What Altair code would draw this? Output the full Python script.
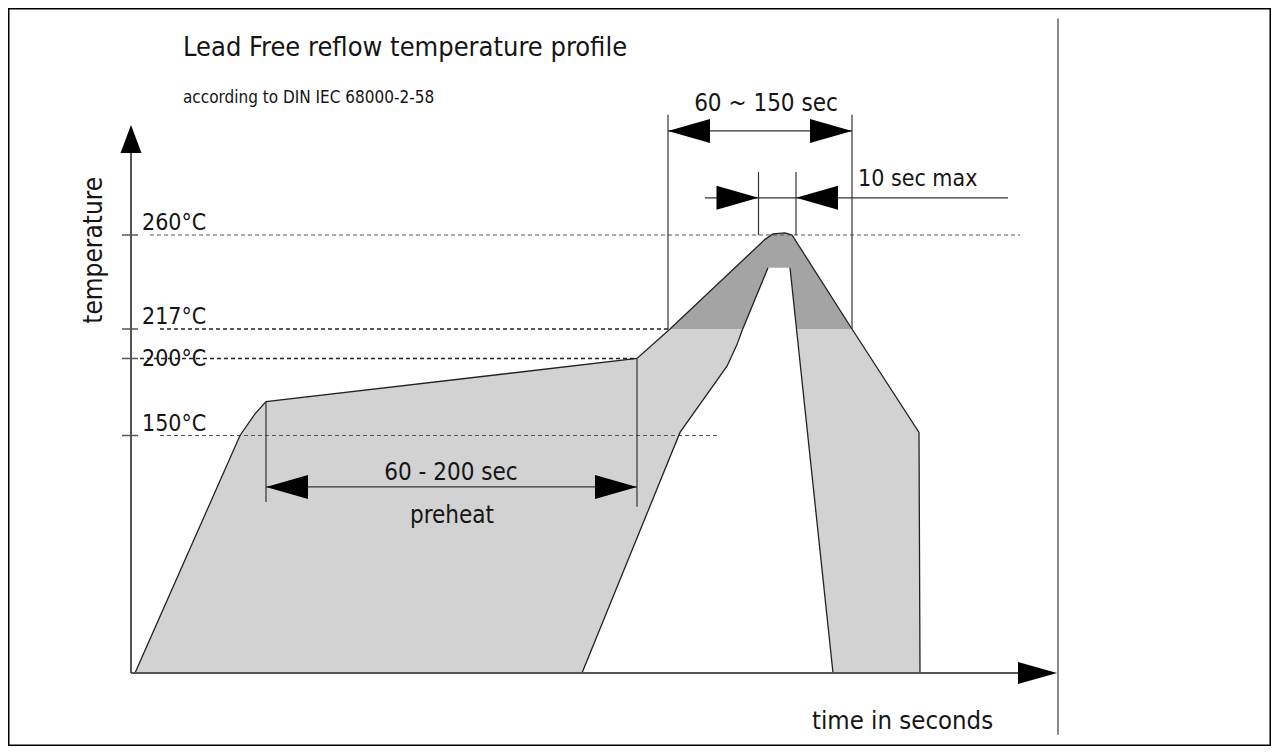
import altair as alt
import pandas as pd

FONT = "DejaVu Sans Condensed, Liberation Sans Narrow, sans-serif"
INK = "#151515"
LIGHT = "#d2d2d2"
DARK = "#a4a4a4"

# ---------------- data (schematic time units, temperature in °C) ----------------
# upper (hot) limit of the profile
outer_time = [2, 54.5, 62, 67.5, 253, 269.5, 317, 321, 327, 330.5, 360.5, 394, 394.5]
outer_temp = [0, 150, 164, 172, 200, 217, 258, 260.5, 261, 260, 217, 152, 0]
# lower (cold) limit of the profile
inner_left_time = [225.5, 274.5, 298, 303, 305.5, 318.5]
inner_left_temp = [0, 152, 195, 208, 216, 245]
inner_right_time = [329.5, 351]
inner_right_temp = [245, 0]

# temperature levels
levels = [260, 217, 200, 150]
level_text = ["260°C", "217°C", "200°C", "150°C"]
level_from = [9.5, 14.5, 4.5, 14.5]
level_to = [444.5, 269.5, 253, 294.5]

# dimension / extension lines (t1, T1) -> (t2, T2)
dim_t1 = [67.5, 253, 67.5, 268.5, 360.5, 268.5, 313.75, 332.5, 287]
dim_T1 = [172, 200, 117.5, 315, 315, 307.6, 288.8, 288.8, 277]
dim_t2 = [67.5, 253, 253, 268.5, 360.5, 360.5, 313.75, 332.5, 438.5]
dim_T2 = [108, 105, 117.5, 217, 217, 307.6, 260, 260, 277]

# arrow tips
right_tip_t = [253, 360.5, 313.75]
right_tip_T = [117.5, 307.6, 277]
left_tip_t = [67.5, 268.5, 332.5]
left_tip_T = [117.5, 307.6, 277]

# axes
axis_t1 = [0, 0]
axis_T1 = [0, 0]
axis_t2 = [0, 450]
axis_T2 = [300, 0]
xaxis_tip_t = [463]
xaxis_tip_T = [0]
yaxis_tip_t = [0]
yaxis_tip_T = [310.3]

# texts
ann_text = ["60 - 200 sec", "preheat", "60 ~ 150 sec"]
ann_t = [160, 160.5, 317.5]
ann_T = [121.9, 94.7, 316.7]

# ---------------- scales ----------------
xs = alt.Scale(domain=[0, 463], range=[123, 1049], nice=False, zero=False)
ys = alt.Scale(domain=[0, 150, 200, 217, 260], range=[665, 427.5, 350.5, 321, 227],
               nice=False, zero=False)


def X(f):
    return alt.X(f"{f}:Q", scale=xs, axis=None)


def Y(f):
    return alt.Y(f"{f}:Q", scale=ys, axis=None)


def poly_df(ts, Ts):
    return pd.DataFrame({"t": ts, "T": Ts, "i": list(range(len(ts)))})


outer_df = poly_df(outer_time, outer_temp)
dark_df = outer_df[outer_df["T"] >= 217].reset_index(drop=True)
notch_df = poly_df(inner_left_time + inner_right_time, inner_left_temp + inner_right_temp)

outline_df = pd.concat([
    poly_df(outer_time, outer_temp).assign(path="outer"),
    poly_df(inner_left_time, inner_left_temp).assign(path="inner_left"),
    poly_df(inner_right_time, inner_right_temp).assign(path="inner_right"),
])

levels_df = pd.DataFrame({"T": levels, "label": level_text, "t1": level_from, "t2": level_to,
                          "k1": [-4.5] * 4, "k2": [3.5] * 4, "lx": [5.5] * 4})
dims_df = pd.DataFrame({"t1": dim_t1, "T1": dim_T1, "t2": dim_t2, "T2": dim_T2})
axes_df = pd.DataFrame({"t1": axis_t1, "T1": axis_T1, "t2": axis_t2, "T2": axis_T2})

fill_light = alt.Chart(outer_df).mark_line(fill=LIGHT, strokeOpacity=0).encode(
    x=X("t"), y=Y("T"), order="i:Q")
fill_dark = alt.Chart(dark_df).mark_line(fill=DARK, strokeOpacity=0).encode(
    x=X("t"), y=Y("T"), order="i:Q")
fill_notch = alt.Chart(notch_df).mark_line(fill="white", strokeOpacity=0).encode(
    x=X("t"), y=Y("T"), order="i:Q")

dash_thin = alt.Chart(levels_df).transform_filter(
    "datum.T == 260 || datum.T == 150").mark_rule(
    color="#555", strokeWidth=1, strokeDash=[4, 3]).encode(
    x=X("t1"), x2="t2", y=Y("T"))
dash_bold = alt.Chart(levels_df).transform_filter(
    "datum.T == 217 || datum.T == 200").mark_rule(
    color="#222", strokeWidth=1.5, strokeDash=[4, 3]).encode(
    x=X("t1"), x2="t2", y=Y("T"))

outline = alt.Chart(outline_df).mark_line(color="#222", strokeWidth=1.3).encode(
    x=X("t"), y=Y("T"), detail="path:N", order="i:Q")

dims = alt.Chart(dims_df).mark_rule(color="#333", strokeWidth=1.2).encode(
    x=X("t1"), x2="t2", y=Y("T1"), y2="T2")

axes = alt.Chart(axes_df).mark_rule(color="#555", strokeWidth=2).encode(
    x=X("t1"), x2="t2", y=Y("T1"), y2="T2")
ticks = alt.Chart(levels_df).mark_rule(color="#555", strokeWidth=1.5).encode(
    x=X("k1"), x2="k2", y=Y("T"))

RIGHT = "M0,0L-2,-0.57L-2,0.57Z"
LEFT = "M0,0L2,-0.57L2,0.57Z"
UP = "M0,0L-0.75,2L0.75,2Z"

arr_right = alt.Chart(pd.DataFrame({"t": right_tip_t, "T": right_tip_T})).mark_point(
    shape=RIGHT, size=1764, filled=True, color="black", opacity=1, strokeWidth=0).encode(
    x=X("t"), y=Y("T"))
arr_left = alt.Chart(pd.DataFrame({"t": left_tip_t, "T": left_tip_T})).mark_point(
    shape=LEFT, size=1764, filled=True, color="black", opacity=1, strokeWidth=0).encode(
    x=X("t"), y=Y("T"))
arr_x = alt.Chart(pd.DataFrame({"t": xaxis_tip_t, "T": xaxis_tip_T})).mark_point(
    shape=RIGHT, size=1521, filled=True, color="black", opacity=1, strokeWidth=0).encode(
    x=X("t"), y=Y("T"))
arr_y = alt.Chart(pd.DataFrame({"t": yaxis_tip_t, "T": yaxis_tip_T})).mark_point(
    shape=UP, size=784, filled=True, color="black", opacity=1, strokeWidth=0).encode(
    x=X("t"), y=Y("T"))

right_border = alt.Chart(pd.DataFrame({"t": [463.5], "T1": [-39], "T2": [359]})).mark_rule(
    color="#8a8a8a", strokeWidth=2).encode(x=X("t"), y=Y("T1"), y2="T2")

lvl_above = alt.Chart(levels_df).transform_filter("datum.T != 200").mark_text(
    align="left", baseline="alphabetic", dy=-5, font=FONT, fontSize=23, color=INK).encode(
    x=X("lx"), y=Y("T"), text="label:N")
lvl_mid = alt.Chart(levels_df).transform_filter("datum.T == 200").mark_text(
    align="left", baseline="middle", font=FONT, fontSize=23, color=INK).encode(
    x=X("lx"), y=Y("T"), text="label:N")

ann = alt.Chart(pd.DataFrame({"t": ann_t, "T": ann_T, "s": ann_text})).mark_text(
    align="center", baseline="alphabetic", font=FONT, fontSize=24, color=INK).encode(
    x=X("t"), y=Y("T"), text="s:N")


def label(txt, t, T, size, align="left", angle=None):
    kw = dict(align=align, baseline="alphabetic", font=FONT, fontSize=size, color=INK)
    if angle is not None:
        kw["angle"] = angle
    return alt.Chart(pd.DataFrame({"t": [t], "T": [T], "s": [txt]})).mark_text(**kw).encode(
        x=X("t"), y=Y("T"), text="s:N")


title = label("Lead Free reflow temperature profile", 26, 341.9, 27)
subtitle = label("according to DIN IEC 68000-2-58", 26, 320.4, 17)
ylab = label("temperature", -14.5, 253, 26, align="center", angle=270)
xlab = label("time in seconds", 340.5, -35.4, 25.5)
tenlab = label("10 sec max", 363.5, 282.4, 23)

chart = alt.layer(
    fill_light, fill_dark, fill_notch,
    dash_thin, dash_bold,
    outline, dims, axes, ticks, right_border,
    arr_right, arr_left, arr_x, arr_y,
    lvl_above, lvl_mid, ann, title, subtitle, ylab, xlab, tenlab,
).properties(
    width=1263, height=738, padding=0,
    autosize=alt.AutoSizeParams(type="none"),
    background="white",
).configure_view(stroke="black", strokeWidth=3)

chart.save("out.html", embed_options={"renderer": "svg", "actions": False})
